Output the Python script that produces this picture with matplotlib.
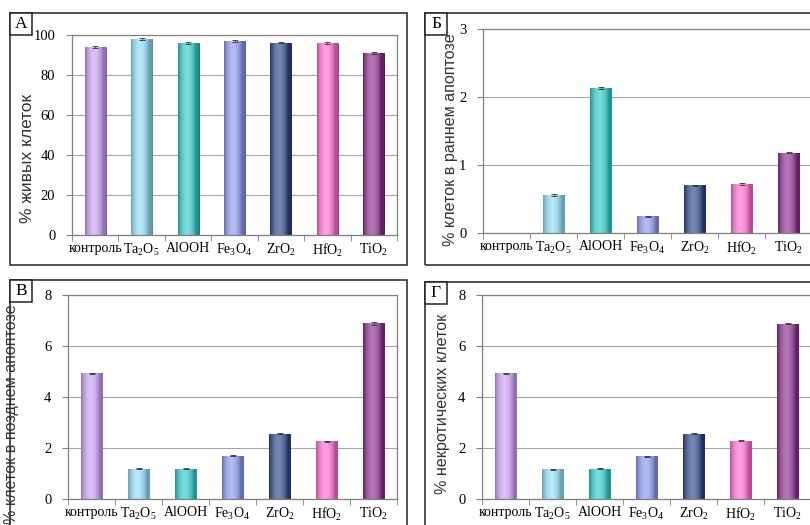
import matplotlib

matplotlib.use("Agg")
import matplotlib.pyplot as plt
import numpy as np
from matplotlib.colors import to_rgb
from matplotlib.patches import Rectangle

plt.rcParams["font.family"] = ["Liberation Serif", "DejaVu Serif"]
plt.rcParams["mathtext.fontset"] = "custom"
plt.rcParams["mathtext.rm"] = "Liberation Serif"
plt.rcParams["mathtext.it"] = "Liberation Serif:italic"

categories = ["контроль", "Ta$_2$O$_5$", "AlOOH", "Fe$_3$O$_4$", "ZrO$_2$", "HfO$_2$", "TiO$_2$"]
bar_colors = ["#c99cf5", "#8fdcf5", "#2ec9c9", "#8a96ee", "#2b4386", "#ff6ad0", "#8a2a8e"]

live_cells = [94.0, 98.0, 96.0, 97.0, 96.2, 96.0, 91.0]
live_err = [0.3, 0.3, 0.3, 0.3, 0.3, 0.3, 0.3]
early_apoptosis = [0.0, 0.56, 2.13, 0.245, 0.70, 0.72, 1.18]
early_err = [0.0, 0.01, 0.01, 0.01, 0.01, 0.01, 0.01]
late_apoptosis = [4.93, 1.18, 1.19, 1.69, 2.56, 2.27, 6.89]
late_err = [0.02, 0.02, 0.02, 0.02, 0.02, 0.02, 0.06]
necrotic = [4.93, 1.16, 1.18, 1.67, 2.56, 2.28, 6.88]
necrotic_err = [0.02, 0.02, 0.02, 0.02, 0.02, 0.02, 0.02]

panels = [
    # letter, values, errors, ylabel, ymax, ystep, axes rect (px), frame rect (px)
    ("А", live_cells, live_err, "% живых клеток", 100, 20, (72, 35, 397, 235), (10, 13, 407, 265)),
    ("Б", early_apoptosis, early_err, "% клеток в раннем апоптозе", 3, 1, (483, 29, 812, 233), (425, 13, 815, 265)),
    ("В", late_apoptosis, late_err, "% клеток в позднем апоптозе", 8, 2, (68, 295, 397, 499), (10, 280, 407, 530)),
    ("Г", necrotic, necrotic_err, "% некротических клеток", 8, 2, (482, 295, 811, 499), (425, 282, 815, 530)),
]
# centre of each y label in pixels, and its font size
ylabel_pos = {"А": (28, 158), "Б": (450, 140), "В": (12, 414), "Г": (443, 404)}
ylabel_size = {"А": 12.5, "Б": 11.6, "В": 11.6, "Г": 11.6}

W, H = 810, 525
fig = plt.figure(figsize=(W / 100, H / 100), dpi=100)
fig.patch.set_facecolor("white")


def px_rect(x0, y0, x1, y1):
    return [x0 / W, 1 - y1 / H, (x1 - x0) / W, (y1 - y0) / H]


def shade_bar(ax, bar, color):
    x0, y0 = bar.get_x(), bar.get_y()
    w, h = bar.get_width(), bar.get_height()
    if h <= 0:
        return
    base = np.array(to_rgb(color))
    t = np.linspace(0, 1, 64)
    s = np.sin(np.pi * np.clip(t * 1.15, 0, 1)) ** 0.8
    dark = base * 0.72
    light = base + (1 - base) * 0.35
    rgb = dark[None, :] * (1 - s[:, None]) + light[None, :] * s[:, None]
    img = ax.imshow(rgb[None, :, :], extent=[x0, x0 + w, y0, y0 + h], aspect="auto",
                    zorder=2.5, interpolation="bilinear")
    img.set_clip_path(bar)


x = np.arange(len(categories))
for letter, values, errs, ylabel, ymax, ystep, arect, frect in panels:
    ax = fig.add_axes(px_rect(*arect))
    bars = ax.bar(x, values, width=0.45, color=bar_colors, zorder=2,
                  edgecolor=[tuple(np.array(to_rgb(c)) * 0.6) for c in bar_colors], linewidth=0.7)
    for bar, c in zip(bars, bar_colors):
        shade_bar(ax, bar, c)
    vals = np.array(values)
    keep = vals > 0
    ax.errorbar(x[keep], vals[keep], yerr=np.array(errs)[keep], fmt="none", ecolor="#333333",
                elinewidth=0.6, capsize=2.5, capthick=0.6, zorder=4)

    ax.set_xlim(-0.5, len(categories) - 0.5)
    ax.set_ylim(0, ymax)
    ax.set_yticks(np.arange(0, ymax + ystep / 2, ystep))
    ax.yaxis.grid(True, color="#a6a6a6", linewidth=0.8, zorder=0)
    ax.set_axisbelow(True)

    ax.set_xticks(x)
    ax.set_xticklabels(categories, fontsize=10)
    ax.set_xticks(np.arange(-0.5, len(categories), 1), minor=True)
    ax.tick_params(axis="x", which="major", length=0, pad=5)
    ax.tick_params(axis="x", which="minor", length=4, direction="out", color="#808080")
    ax.tick_params(axis="y", length=4, direction="out", color="#808080", labelsize=10.5, pad=8)
    for sp in ax.spines.values():
        sp.set_color("#808080")
        sp.set_linewidth(0.9)

    fx0, fy0, fx1, fy1 = frect
    fig.patches.append(Rectangle((fx0 / W, 1 - fy1 / H), (fx1 - fx0) / W, (fy1 - fy0) / H,
                                 transform=fig.transFigure, fill=False, edgecolor="#222222",
                                 linewidth=1.1))
    fig.patches.append(Rectangle((fx0 / W, 1 - (fy0 + 22) / H), 22 / W, 22 / H,
                                 transform=fig.transFigure, facecolor="white",
                                 edgecolor="#222222", linewidth=1.1))
    fig.text((fx0 + 11) / W, 1 - (fy0 + 11) / H, letter, ha="center", va="center", fontsize=12.5)

    lx, ly = ylabel_pos[letter]
    fig.text(lx / W, 1 - ly / H, ylabel, rotation=90, ha="center", va="center",
             fontsize=ylabel_size[letter], family=["Liberation Sans", "DejaVu Sans"],
             color="#333333")

fig.savefig("out.png", dpi=100)
